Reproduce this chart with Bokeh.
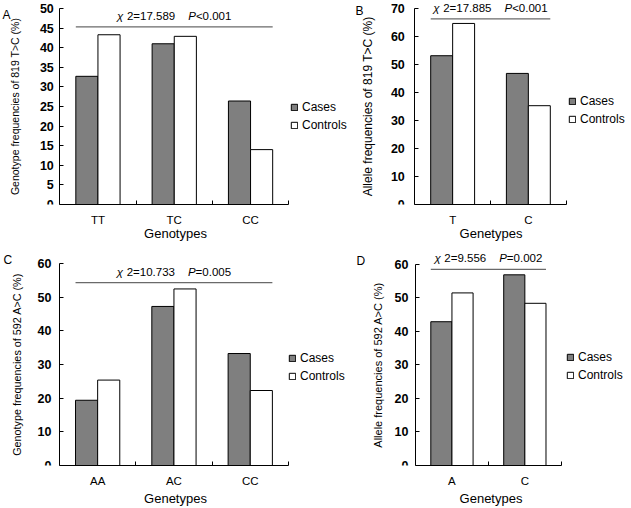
from bokeh.plotting import figure
from bokeh.layouts import column, row
from bokeh.models import Range1d, FixedTicker, Legend, LegendItem, Label, LinearAxis
from bokeh.embed import file_html
from bokeh.resources import INLINE

# ---------------- data ----------------
series_names = ["Cases", "Controls"]

geno_819 = ["TT", "TC", "CC"]
geno_819_cases = [32.7, 41.0, 26.4]
geno_819_controls = [43.3, 42.9, 14.0]

allele_819 = ["T", "C"]
allele_819_cases = [53.0, 46.7]
allele_819_controls = [64.5, 35.2]

geno_592 = ["AA", "AC", "CC"]
geno_592_cases = [19.4, 47.3, 33.3]
geno_592_controls = [25.4, 52.5, 22.3]

allele_592 = ["A", "C"]
allele_592_cases = [42.9, 56.9]
allele_592_controls = [51.5, 48.4]

panel_letters = ["A", "B", "C", "D"]
y_titles = ["Genotype frequencies of 819 T>C (%)",
            "Allele frequencies of 819 T>C (%)",
            "Genotype frequencies of 592 A>C (%)",
            "Allele frequencies of 592 A>C (%)"]
x_titles = ["Genotypes", "Genetypes", "Genetypes", "Genetypes"]
y_max = [50, 70, 60, 60]
y_step = [5, 10, 10, 10]
chi_values = ["2=17.589", "2=17.885", "2=10.733", "2=9.556"]
p_values = ["<0.001", "<0.001", "=0.005", "=0.002"]
sig_line_y = [45.3, 66.1, 54.4, 58.5]

# ---------------- styling ----------------
FONT = "Liberation Sans"
CASE_FILL = "#7f7f7f"
BAR_W = 0.29

CHAR_W = {"χ": 0.55, " ": 0.278, "=": 0.584, "<": 0.584, ".": 0.278, "P": 0.667}


def text_w(s, fs):
    return sum(CHAR_W.get(c, 0.556) for c in s) * fs


def make_panel(i, cats, cases, controls, fig_w, fig_h, frame_h, top_pad,
               axis_px, cat_px, ytitle_fs, tick_standoff, title_standoff,
               xtitle_standoff, legend_loc, letter_xy):
    n = len(cats)
    x_start = -axis_px / cat_px
    x_end = (fig_w - axis_px) / cat_px
    y_end = y_max[i] * frame_h / (frame_h - top_pad)
    p = figure(width=fig_w, height=fig_h, output_backend="svg",
               toolbar_location=None,
               x_range=Range1d(x_start, x_end), y_range=Range1d(0, y_end),
               min_border=0, min_border_left=0, min_border_right=0,
               min_border_top=0, min_border_bottom=fig_h - frame_h,
               x_axis_type=None, y_axis_type=None)
    p.outline_line_color = None
    p.background_fill_color = "white"
    p.border_fill_color = "white"
    p.xgrid.visible = False
    p.ygrid.visible = False

    centers = [k + 0.5 for k in range(n)]
    xa = LinearAxis(ticker=FixedTicker(ticks=centers, minor_ticks=list(range(n + 1))),
                    bounds=(0, n))
    xa.major_label_overrides = {c: cat for c, cat in zip(centers, cats)}
    xa.major_tick_out = 0
    xa.major_tick_in = 0
    xa.minor_tick_in = 4
    xa.minor_tick_out = 0
    xa.minor_tick_line_color = "black"
    xa.axis_line_color = "black"
    xa.major_label_standoff = 9
    xa.major_label_text_font = FONT
    xa.major_label_text_font_size = "11.5px"
    xa.major_label_text_color = "black"
    xa.axis_label = x_titles[i]
    xa.axis_label_text_font = FONT
    xa.axis_label_text_font_size = "13px"
    xa.axis_label_text_font_style = "normal"
    xa.axis_label_text_color = "black"
    xa.axis_label_standoff = xtitle_standoff
    p.add_layout(xa, "below")

    ya = LinearAxis(ticker=FixedTicker(ticks=list(range(0, y_max[i] + 1, y_step[i]))),
                    bounds=(0, y_max[i]), fixed_location=0)
    ya.major_tick_in = 4
    ya.major_tick_out = 0
    ya.minor_tick_in = 0
    ya.minor_tick_out = 0
    ya.axis_line_color = "black"
    ya.major_tick_line_color = "black"
    ya.major_label_standoff = tick_standoff
    ya.major_label_text_font = FONT
    ya.major_label_text_font_size = "12.5px"
    ya.major_label_text_font_style = "bold"
    ya.major_label_text_color = "black"
    ya.axis_label = y_titles[i]
    ya.axis_label_text_font = FONT
    ya.axis_label_text_font_size = ytitle_fs
    ya.axis_label_text_font_style = "normal"
    ya.axis_label_text_color = "black"
    ya.axis_label_standoff = title_standoff
    p.add_layout(ya, "left")

    x_cases = [k + 0.5 - BAR_W / 2 for k in range(n)]
    x_ctrl = [k + 0.5 + BAR_W / 2 for k in range(n)]
    r1 = p.vbar(x=x_cases, top=cases, width=BAR_W, bottom=0,
                fill_color=CASE_FILL, line_color="black", line_width=1)
    r2 = p.vbar(x=x_ctrl, top=controls, width=BAR_W, bottom=0,
                fill_color="white", line_color="black", line_width=1)

    # significance line spanning the bars
    x0 = x_cases[0] - BAR_W / 2
    x1 = x_ctrl[-1] + BAR_W / 2
    ly = sig_line_y[i]
    p.line(x=[x0, x1], y=[ly, ly], line_color="#6a6a6a", line_width=1.3)

    fs = 11.5
    # (text, style, gap in px after the piece)
    pieces = [("χ", "italic", 3.5), (chi_values[i], "normal", 13.0),
              ("P", "italic", 0.0), (p_values[i], "normal", 0.0)]
    total = sum(text_w(t, fs) + g for t, _, g in pieces)
    off = -total / 2
    cx = (x0 + x1) / 2
    for t, style, g in pieces:
        p.add_layout(Label(x=cx, y=ly, x_offset=off, y_offset=11, text=t,
                           text_align="left", text_baseline="middle",
                           text_font=FONT, text_font_size=f"{fs}px",
                           text_font_style=style, text_color="black"))
        off += text_w(t, fs) + g

    # panel letter (screen px from the frame's bottom-left)
    p.add_layout(Label(x=letter_xy[0], y=letter_xy[1], x_units="screen",
                       y_units="screen", text=panel_letters[i],
                       text_align="left", text_baseline="top",
                       text_font=FONT, text_font_size="12px",
                       text_color="black"))

    leg = Legend(items=[LegendItem(label=series_names[0], renderers=[r1]),
                        LegendItem(label=series_names[1], renderers=[r2])],
                 location=legend_loc, orientation="vertical",
                 glyph_width=8, glyph_height=8, label_height=14,
                 label_standoff=4, spacing=4, padding=0, margin=0,
                 label_text_font=FONT, label_text_font_size="12px",
                 label_text_color="black",
                 background_fill_alpha=0, border_line_alpha=0)
    p.add_layout(leg)
    return p


pA = make_panel(0, geno_819, geno_819_cases, geno_819_controls,
                350, 248, 204, 8, 59.3, 76.3, "10.5px", 6, 16, -3,
                (290, 72), (2, 197))
pB = make_panel(1, allele_819, allele_819_cases, allele_819_controls,
                281, 248, 204, 7.5, 64.3, 75.7, "12px", 10, 13, -3,
                (218, 78), (5, 201))
pC = make_panel(2, geno_592, geno_592_cases, geno_592_controls,
                350, 260, 218, 15.3, 59.0, 76.3, "10.8px", 8, 12, 1,
                (288, 82), (3, 213))
pD = make_panel(3, allele_592, allele_592_cases, allele_592_controls,
                281, 260, 218, 16.0, 65.0, 72.9, "11px", 7, 8, 1,
                (216, 83), (6, 212))

layout = column(row(pA, pB), row(pC, pD))

open("out.html", "w").write(file_html(layout, INLINE))
